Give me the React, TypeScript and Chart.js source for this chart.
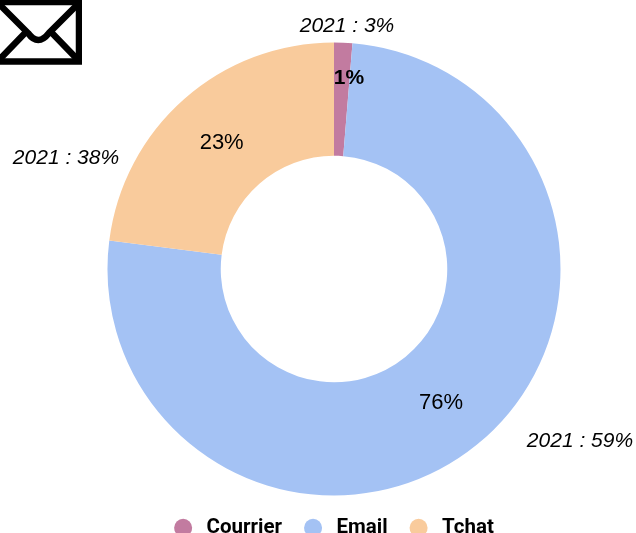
import React, { useEffect, useRef } from "react";
import { Chart, registerables } from "chart.js";

Chart.register(...registerables);

const categories = ["Courrier", "Email", "Tchat"];
const shares = [1.3, 75.7, 23];
const shareLabels = ["1%", "76%", "23%"];
const previousYearLabels = ["2021 : 3%", "2021 : 59%", "2021 : 38%"];
const colors = ["#C27BA0", "#A4C2F4", "#F9CB9C"];

const sliceLabelStyles = [
  { font: "bold 21px 'Liberation Sans'", dx: 8, dy: -21 },
  { font: "22px 'Liberation Sans'", dx: 0, dy: 2 },
  { font: "22px 'Liberation Sans'", dx: 0, dy: 1 },
];
const calloutOffsets = [
  { dx: 13, dy: -243 },
  { dx: 246, dy: 172 },
  { dx: -268, dy: -111 },
];

const labelsPlugin = {
  id: "sliceLabels",
  afterDatasetsDraw(chart: any) {
    const { ctx } = chart;
    const arcs = chart.getDatasetMeta(0).data;
    ctx.save();
    ctx.textAlign = "center";
    ctx.textBaseline = "middle";
    ctx.fillStyle = "#000";
    arcs.forEach((arc: any, i: number) => {
      const p = arc.tooltipPosition();
      ctx.font = sliceLabelStyles[i].font;
      ctx.fillText(shareLabels[i], p.x + sliceLabelStyles[i].dx, p.y + sliceLabelStyles[i].dy);
      ctx.font = "italic 21px 'Liberation Sans'";
      ctx.fillText(previousYearLabels[i], arc.x + calloutOffsets[i].dx, arc.y + calloutOffsets[i].dy);
    });
    ctx.restore();
  },
};

export default function App() {
  const ref = useRef<HTMLCanvasElement>(null);
  useEffect(() => {
    const chart = new Chart(ref.current!, {
      type: "doughnut",
      data: {
        labels: categories,
        datasets: [{ data: shares, backgroundColor: colors, borderWidth: 0 }],
      },
      options: {
        animation: false,
        responsive: false,
        cutout: "50%",
        layout: { padding: { top: 42.5, bottom: -15, left: 32, right: 0 } },
        plugins: {
          tooltip: { enabled: false },
          legend: {
            position: "bottom",
            labels: {
              usePointStyle: true,
              pointStyle: "circle",
              pointStyleWidth: 18,
              boxHeight: 12.7,
              padding: 22,
              color: "#000",
              font: { family: "Roboto", weight: "bold", size: 20.5 },
              generateLabels(chart: any) {
                return Chart.overrides.doughnut.plugins.legend.labels
                  .generateLabels(chart)
                  .map((item: any) => ({ ...item, text: "\u2009" + item.text }));
              },
            },
          },
        },
      },
      plugins: [labelsPlugin],
    });
    return () => chart.destroy();
  }, []);
  return (
    <div style={{ position: "fixed", left: 0, top: 0, width: 636, height: 533, overflow: "hidden", background: "#fff" }}>
      <canvas ref={ref} width={636} height={533} style={{ display: "block" }} />
      <svg width={82} height={65} viewBox="0 0 82 65" style={{ position: "absolute", left: 0, top: 0 }}>
        <rect x={0} y={0} width={82} height={65} fill="#fff" />
        <path d="M-4 2H79V61.5H-4" fill="none" stroke="#000" strokeWidth={6.5} />
        <path d="M-2 3L28 33Q38 47 49 33L79 3" fill="none" stroke="#000" strokeWidth={6.5} />
        <path d="M-2 61L26 32M79 61L51 32" fill="none" stroke="#000" strokeWidth={6.5} />
      </svg>
    </div>
  );
}
